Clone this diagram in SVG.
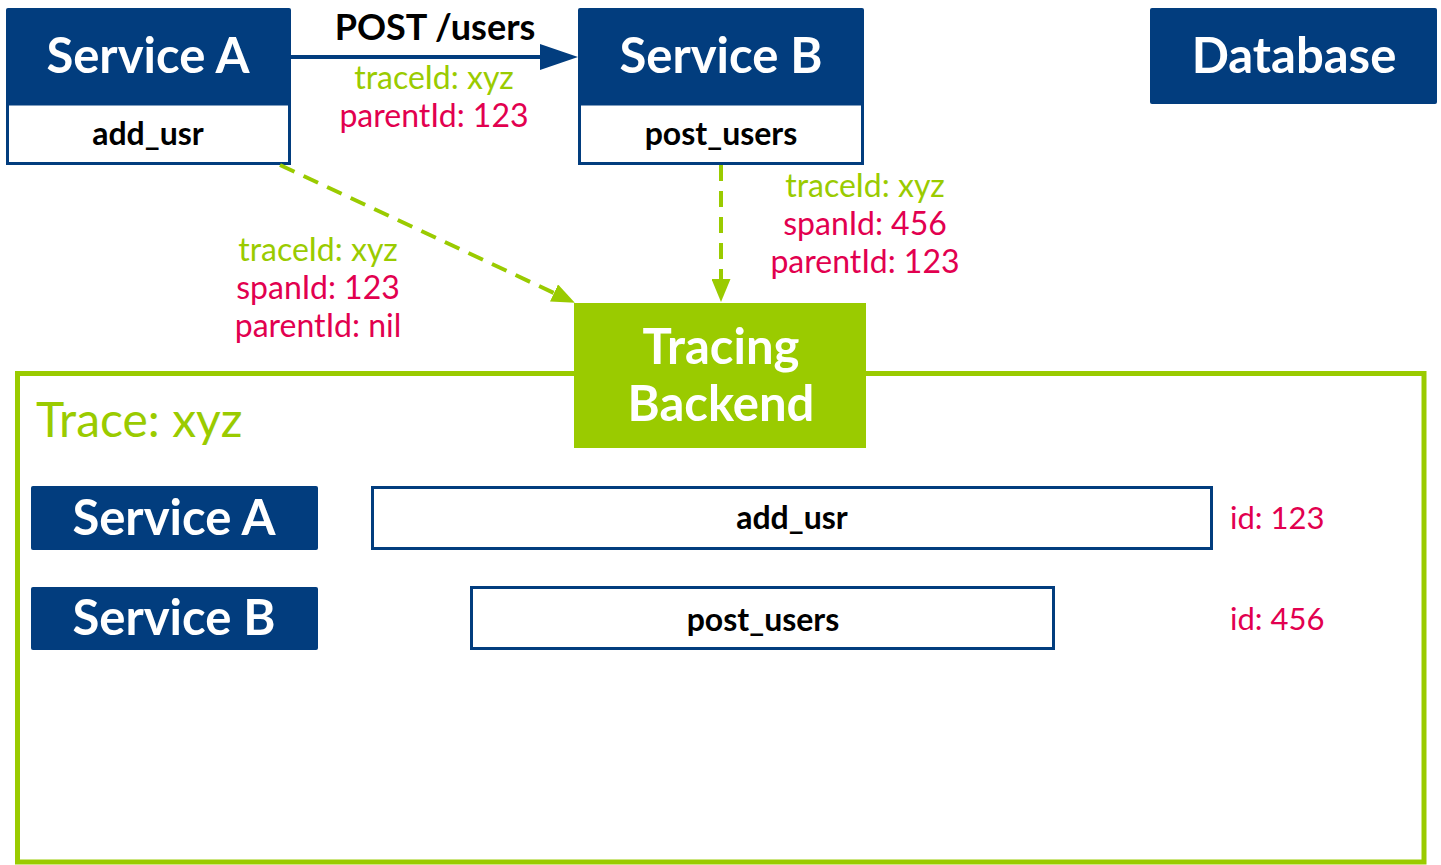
<svg xmlns="http://www.w3.org/2000/svg" width="1441" height="865" viewBox="0 0 1441 865">
  <defs>
    <style>
      text { font-family: Lato, "Open Sans", "Liberation Sans", sans-serif; text-anchor: middle; }
      .navy { fill: #023d7e; }
      .title { fill: #ffffff; font-weight: 700; font-size: 49px; }
      .span-box { fill: #ffffff; stroke: #023d7e; stroke-width: 3; }
      .span-text { fill: #000000; font-weight: 700; font-size: 32px; }
      .green-t { fill: #9acb00; font-size: 32px; }
      .red-t { fill: #e2004f; font-size: 32px; }
      .id-t { fill: #e2004f; font-size: 31px; text-anchor: start; }
      .dash { stroke: #9acb00; stroke-width: 4; stroke-dasharray: 16 10; fill: none; }
    </style>
    <marker id="arrow-navy" markerUnits="userSpaceOnUse" markerWidth="38" markerHeight="26" refX="0" refY="13" orient="auto">
      <path d="M0,0 L38,13 L0,26 z" fill="#023d7e"/>
    </marker>
    <marker id="arrow-green" markerUnits="userSpaceOnUse" markerWidth="23" markerHeight="19" refX="0" refY="9.5" orient="auto">
      <path d="M0,0 L23,9.5 L0,19 z" fill="#9acb00"/>
    </marker>
  </defs>

  <!-- trace view container -->
  <g id="trace-view">
    <rect x="17.5" y="373.5" width="1406.5" height="488.5" fill="#ffffff" stroke="#9acb00" stroke-width="5"/>
    <text x="36" y="437" fill="#9acb00" font-size="48" style="text-anchor:start">Trace: xyz</text>
  </g>

  <!-- service A with its span -->
  <g id="service-a">
    <rect x="6" y="8" width="285" height="97" rx="2" class="navy"/>
    <rect x="7.5" y="104" width="282" height="59.5" class="span-box"/>
    <text x="148" y="73" class="title">Service A</text>
    <text x="148" y="145" class="span-text">add_usr</text>
  </g>

  <!-- service B with its span -->
  <g id="service-b">
    <rect x="578" y="8" width="286" height="97" rx="2" class="navy"/>
    <rect x="579.5" y="104" width="283" height="59.5" class="span-box"/>
    <text x="721" y="73" class="title">Service B</text>
    <text x="721" y="145" class="span-text">post_users</text>
  </g>

  <g id="database">
    <rect x="1150" y="8" width="287" height="96" rx="2" class="navy"/>
    <text x="1294" y="73" class="title">Database</text>
  </g>

  <g id="tracing-backend">
    <rect x="574" y="303" width="292" height="145" fill="#9acb00"/>
    <text x="721" y="364" class="title">Tracing</text>
    <text x="721" y="421" class="title">Backend</text>
  </g>

  <!-- timeline rows -->
  <g id="row-service-a">
    <rect x="31" y="486" width="287" height="64" rx="2" class="navy"/>
    <text x="174" y="535" class="title">Service A</text>
  </g>
  <g id="span-add-usr">
    <rect x="372.5" y="487.5" width="839" height="61" class="span-box"/>
    <text x="792" y="529" class="span-text">add_usr</text>
    <text x="1230" y="529" class="id-t">id: 123</text>
  </g>
  <g id="row-service-b">
    <rect x="31" y="587" width="287" height="63" rx="2" class="navy"/>
    <text x="174" y="635" class="title">Service B</text>
  </g>
  <g id="span-post-users">
    <rect x="471.5" y="587.5" width="582" height="61" class="span-box"/>
    <text x="763" y="631" class="span-text">post_users</text>
    <text x="1230" y="630" class="id-t">id: 456</text>
  </g>

  <!-- connectors -->
  <g id="connectors">
    <line x1="291" y1="57" x2="540" y2="57" stroke="#023d7e" stroke-width="4" marker-end="url(#arrow-navy)"/>
    <text x="435" y="40" style="font-weight:700;font-size:36px" fill="#000000">POST /users</text>
    <text x="434" y="89" class="green-t">traceId: xyz</text>
    <text x="434" y="127" class="red-t">parentId: 123</text>

    <line x1="280" y1="165" x2="554" y2="293" class="dash" marker-end="url(#arrow-green)"/>
    <text x="318" y="261" class="green-t">traceId: xyz</text>
    <text x="318" y="299" class="red-t">spanId: 123</text>
    <text x="318" y="337" class="red-t">parentId: nil</text>

    <line x1="721" y1="165" x2="721" y2="279" class="dash" marker-end="url(#arrow-green)"/>
    <text x="865" y="197" class="green-t">traceId: xyz</text>
    <text x="865" y="235" class="red-t">spanId: 456</text>
    <text x="865" y="273" class="red-t">parentId: 123</text>
  </g>
</svg>
